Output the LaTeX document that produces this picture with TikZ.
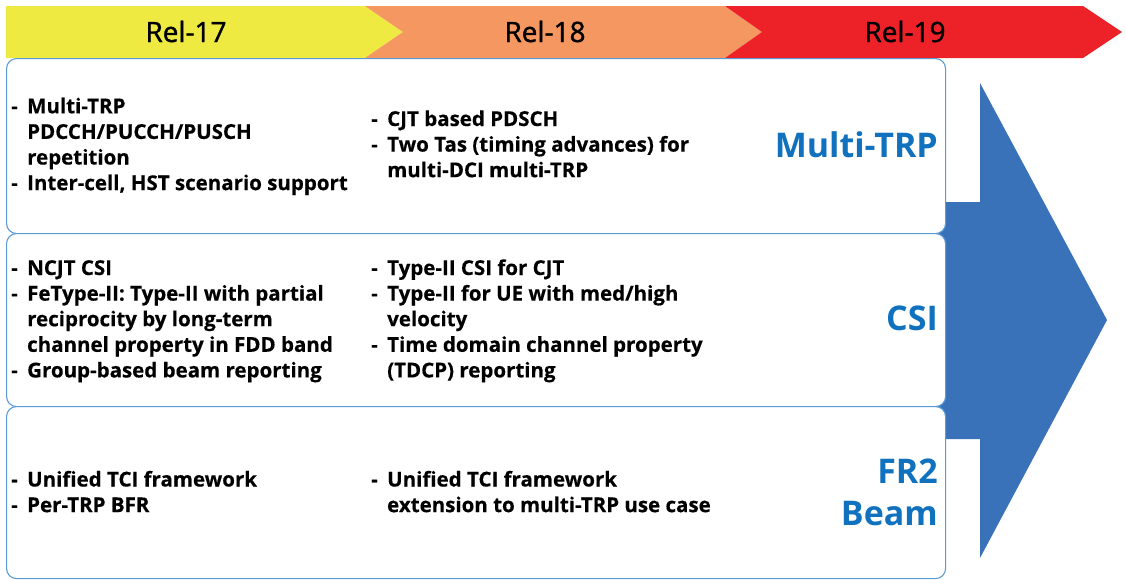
\documentclass[tikz,border=0pt]{standalone}
\usepackage{fontspec}
\setmainfont{Open Sans}
\newfontfamily\relfont[FakeBold=1.2]{Open Sans}
\newfontfamily\bodyfont[FakeBold=0.4]{Open Sans Bold}
\definecolor{relyellow}{RGB}{238,234,66}
\definecolor{relorange}{RGB}{244,151,96}
\definecolor{relred}{RGB}{237,34,41}
\definecolor{arrowblue}{RGB}{58,114,185}
\definecolor{catblue}{RGB}{16,114,190}
\definecolor{boxline}{RGB}{91,155,213}
\newcommand\itm{\makebox[16pt][l]{-}}
\newcommand\cnt{\hspace*{16pt}}
\newcommand\bodycol[4]{%
  \foreach \t [count=\i from 0] in {#4} {
    \node[body] (#1\i) at (#2,#3+\i*25.6) {\t};
  }}
\tikzset{
  box/.style={draw=boxline, line width=1.1pt, fill=white, rounded corners=10pt,
    minimum width=939pt, anchor=north west, inner sep=0pt},
  body/.style={anchor=base west, inner sep=0pt, font=\bodyfont\fontsize{20.5}{24}\selectfont},
  rel/.style={anchor=base, inner sep=0pt, font=\relfont\fontsize{28}{32}\selectfont},
  cat/.style={anchor=base east, inner sep=0pt, text=catblue, font=\fontsize{34}{40}\selectfont\bfseries}
}
\begin{document}
\begin{tikzpicture}[x=1pt,y=-1pt]
\useasboundingbox (0,0) rectangle (1126,579);
% release banner
\fill[relyellow] (6,6) -- (365,6) -- (403,32) -- (365,58) -- (6,58) -- cycle;
\fill[relorange] (365,6) -- (725,6) -- (762,32) -- (725,58) -- (365,58) -- (403,32) -- cycle;
\fill[relred] (725,6) -- (1083,6) -- (1122,32) -- (1083,58) -- (725,58) -- (762,32) -- cycle;
\node[rel] (r17) at (186,42) {Rel-17};
\node[rel] (r18) at (545,42) {Rel-18};
\node[rel] (r19) at (905,42) {Rel-19};
% big arrow
\fill[arrowblue] (920,202) -- (980,202) -- (980,83) -- (1107,320) -- (980,558) -- (980,439) -- (920,439) -- cycle;
% boxes
\node[box, minimum height=175pt] (b1) at (6,58) {};
\node[box, minimum height=173pt] (b2) at (6,233) {};
\node[box, minimum height=172pt] (b3) at (6,406) {};
% category labels
\node[cat] (c1) at (938,157) {Multi-TRP};
\node[cat] (c2) at (938,330) {CSI};
\node[cat] (c3) at (938,483) {FR2};
\node[cat] (c4) at (938,525) {Beam};
% box 1
\bodycol{pa}{11}{113.3}{{\itm Multi-TRP},{\cnt PDCCH/PUCCH/PUSCH},{\cnt repetition},{\itm Inter-cell, HST scenario support}}
\bodycol{pb}{371}{126}{{\itm CJT based PDSCH},{\itm Two Tas (timing advances) for},{\cnt multi-DCI multi-TRP}}
% box 2
\bodycol{qa}{11}{275}{{\itm NCJT CSI},{\itm FeType-II: Type-II with partial},{\cnt reciprocity by long-term},{\cnt channel property in FDD band},{\itm Group-based beam reporting}}
\bodycol{qb}{371}{275}{{\itm Type-II CSI for CJT},{\itm Type-II for UE with med/high},{\cnt velocity},{\itm Time domain channel property},{\cnt (TDCP) reporting}}
% box 3
\bodycol{sa}{11}{486.5}{{\itm Unified TCI framework},{\itm Per-TRP BFR}}
\bodycol{sb}{371}{486.5}{{\itm Unified TCI framework},{\cnt extension to multi-TRP use case}}
\end{tikzpicture}
\end{document}
